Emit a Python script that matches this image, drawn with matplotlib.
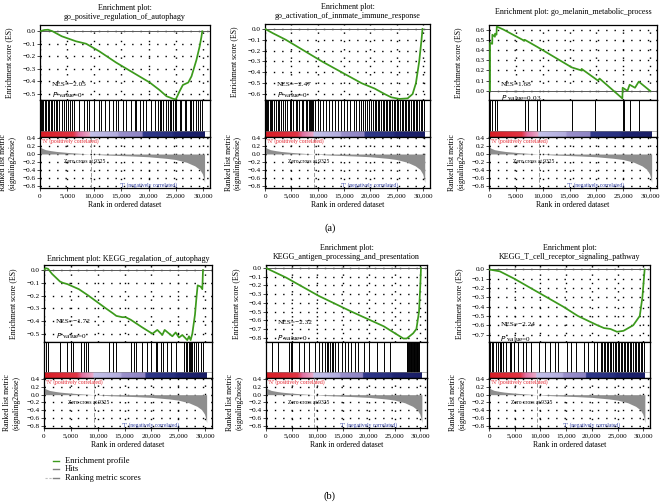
import numpy as np
import matplotlib
matplotlib.use("Agg")
import matplotlib.pyplot as plt
from matplotlib.colors import LinearSegmentedColormap
from matplotlib.lines import Line2D
from matplotlib.ticker import FuncFormatter

plt.rcParams['font.family'] = ['Liberation Serif', 'DejaVu Serif']

# ---------------- data ----------------
N_GENES = 30300
ZERO_CROSS = 9325

rank_x = [0, 300, 1000, 2000, 3000, 5000, 7000, 9325, 12000, 15000, 17000, 20000,
          23300, 25000, 27000, 28500, 29400, 29900, 30150, 30300]
rank_y = [0.19, 0.15, 0.11, 0.085, 0.065, 0.04, 0.02, 0.0, -0.025, -0.04, -0.05, -0.07,
          -0.11, -0.14, -0.21, -0.3, -0.39, -0.5, -0.62, -0.72]

titles = [
    "Enrichment plot:\ngo_positive_regulation_of_autophagy",
    "Enrichment plot:\ngo_activation_of_innmate_immune_response",
    "Enrichment plot: go_melanin_metabolic_process",
    "Enrichment plot: KEGG_regalation_of_autophagy",
    "Enrichment plot:\nKEGG_antigen_processing_and_presentation",
    "Enrichment plot:\nKEGG_T_cell_receptor_signaling_pathway",
]
nes_values = ["\u22122.05", "\u22122.47", "1.68", "\u22121.72", "\u22122.32", "\u22122.24"]
p_values = ["0", "0", "0.03", "0", "0", "0"]

es1_x = [0, 800, 1500, 2300, 4000, 6600, 8500, 10900, 14000, 17100, 20200, 22000, 23300,
         24500, 25000, 25700, 26300, 27300, 27900, 28800, 29400, 29700, 29880]
es1_y = [0.0, 0.01, 0.012, 0.0, -0.04, -0.08, -0.1, -0.16, -0.25, -0.33, -0.41, -0.47, -0.52,
         -0.54, -0.545, -0.48, -0.43, -0.41, -0.36, -0.23, -0.12, -0.05, 0.0]
hits1 = [120, 430, 620, 860, 1170, 1480, 1670, 1970, 2280, 2590, 3020, 3210, 3520, 4130,
         4440, 4750, 5240, 5490, 5980, 6290, 7220, 8140, 8580, 9070, 10000, 10920, 11230,
         12030, 12770, 13390, 14010, 14310, 15240, 15860, 16780, 17400, 17710, 18320, 18940,
         19560, 20480, 21100, 21720, 22030, 22340, 22640, 23260, 23570, 23880, 24190, 24490,
         24800, 25110, 25730, 26040, 26650, 26960, 27580, 27890, 28200, 28810, 29120, 29430,
         29740]

es2_x = [0, 1500, 3940, 7380, 10810, 14560, 18310, 20810, 22690, 23940, 25500, 27060,
         28000, 28630, 29250, 29690, 29880]
es2_y = [0.0, -0.04, -0.1, -0.2, -0.3, -0.4, -0.5, -0.55, -0.6, -0.63, -0.645, -0.64,
         -0.6, -0.5, -0.3, -0.1, 0.0]
hits2 = [150, 300, 600, 900, 1200, 1400, 1700, 2100, 2400, 2700, 3100, 3500, 3800, 4200,
         4700, 5000, 5400, 5800, 6100, 6500, 7000, 7300, 7700, 8000, 8300, 8500, 8700, 9000,
         9200, 9500, 10000, 10500, 11000, 11600, 12200, 12700, 13300, 13900, 14500, 15000,
         15500, 16200, 16800, 17300, 17800, 18200, 18600, 19000, 19400, 19800, 20200, 20500,
         20800, 21100, 21400, 21700, 22000, 22300, 22600, 22900, 23200, 23500, 23800, 24100,
         24400, 24700, 25000, 25300, 25600, 25900, 26200, 26500, 26800, 27100, 27400, 27700,
         28000, 28300, 28600, 28900, 29200, 29500, 29800, 30100]

es3_x = [0, 190, 190, 600, 630, 1100, 1130, 1400, 1450, 2700, 6600, 6670, 9000, 15400,
         17200, 17250, 20300, 20600, 24850, 24900, 25800, 26200, 27200, 27900, 30000]
es3_y = [0.0, 0.0, 0.47, 0.46, 0.55, 0.53, 0.56, 0.55, 0.63, 0.6, 0.49, 0.5, 0.43, 0.23,
         0.2, 0.215, 0.1, 0.12, -0.075, 0.03, 0.0, 0.06, 0.03, 0.09, 0.0]
hits3 = [190, 630, 1130, 1450, 6670, 7230, 9000, 9500, 15470, 19750, 24900, 25200, 26200,
         27900]

es4_x = [0, 310, 750, 1500, 2980, 3500, 4350, 6500, 8260, 11500, 12850, 13480, 14600,
         15200, 16150, 18300, 20200, 21110, 22050, 22480, 23910, 24530, 25150, 25770, 26700,
         27010, 27320, 27630, 28130, 28440, 28630, 29190, 29500, 29620]
es4_y = [0.0, 0.015, 0.01, -0.03, -0.09, -0.1, -0.11, -0.15, -0.2, -0.3, -0.34, -0.36,
         -0.37, -0.37, -0.39, -0.45, -0.5, -0.47, -0.51, -0.47, -0.52, -0.49, -0.53, -0.51,
         -0.55, -0.52, -0.55, -0.5, -0.35, -0.2, -0.12, -0.13, -0.15, 0.0]
hits4 = [310, 750, 2980, 4350, 4970, 5400, 6960, 7450, 7760, 8260, 12110, 12850, 13480,
         16150, 16770, 17200, 18320, 19250, 19870, 20800, 21110, 21740, 22170, 22980, 23600,
         24530, 26080, 26390, 26700, 27010, 27200, 27450, 27630, 27950, 28260, 28630, 29190,
         29620]

es5_x = [0, 3920, 10250, 16580, 22910, 26710, 27350, 28610, 29240, 29750, 30000, 30130]
es5_y = [0.0, -0.11, -0.32, -0.5, -0.67, -0.81, -0.81, -0.75, -0.7, -0.5, -0.2, 0.0]
hits5 = [1080, 2340, 4560, 4870, 5060, 6460, 7410, 8360, 9620, 10250, 10890, 11520, 11840,
         12150, 12470, 12790, 13100, 13420, 14050, 14690, 15320, 15950, 16580, 17220, 17850,
         19120, 20070, 21650, 22910, 24180, 27350, 27500, 27650, 27800, 27950, 28100, 28250,
         28400, 28550, 28700, 28850, 29000, 29150, 29300, 29450, 29600, 29750]

es6_x = [0, 2090, 4940, 8100, 11270, 14430, 17280, 19180, 21080, 22350, 23610, 24880,
         26140, 28040, 29310, 29820, 30260]
es6_y = [0.0, -0.02, -0.1, -0.2, -0.3, -0.4, -0.5, -0.55, -0.6, -0.63, -0.64, -0.67,
         -0.66, -0.6, -0.5, -0.3, 0.0]
hits6 = [190, 510, 820, 1270, 1770, 2090, 2410, 2720, 3350, 3990, 4300, 4940, 5570, 6520,
         7150, 8100, 9690, 10950, 11900, 12850, 13480, 15070, 16010, 16960, 18550, 19180,
         20450, 21080, 21700, 22000, 22300, 22600, 22900, 23200, 23500, 23800, 24100, 24400,
         24700, 25000, 25300, 25600, 25900, 26200, 26500, 26800, 27100, 27400, 27700, 28000,
         28300, 28600, 28900, 29200, 29500, 29800, 30100]

es_ticks = [
    [0.0, -0.1, -0.2, -0.3, -0.4, -0.5],
    [0.0, -0.1, -0.2, -0.3, -0.4, -0.5, -0.6],
    [0.6, 0.5, 0.4, 0.3, 0.2, 0.1, 0.0],
    [0.0, -0.1, -0.2, -0.3, -0.4, -0.5],
    [0.0, -0.1, -0.2, -0.3, -0.4, -0.5, -0.6, -0.7, -0.8],
    [0.0, -0.1, -0.2, -0.3, -0.4, -0.5, -0.6, -0.7],
]
rank_ticks = [0.4, 0.2, 0.0, -0.2, -0.4, -0.6, -0.8]
x_ticks = [0, 5000, 10000, 15000, 20000, 25000, 30000]

# ---------------- layout / style ----------------
W, H = 661, 504
fig = plt.figure(figsize=(W / 100, H / 100), dpi=100)

GREEN = '#3c9a1c'
cmap = LinearSegmentedColormap.from_list('gsea', [
    (0.0, '#d81c24'), (0.2, '#e23444'), (0.235, '#e070a2'), (0.30, '#eaa8c8'),
    (0.305, '#c4c2ea'), (0.47, '#b2acde'), (0.48, '#9a90cc'), (0.62, '#8e84c4'),
    (0.625, '#30388a'), (0.80, '#283080'), (0.82, '#1e2472'), (1.0, '#1a1e66')])

panel_boxes = [
    (40, 210, 25, 100, 137, 188), (265, 430, 24, 100, 137, 188), (489, 657, 25, 100, 137, 188),
    (44, 212, 265, 342, 378, 428), (266, 427, 265, 342, 378, 428), (489, 650, 265, 342, 378, 428),
]
es_ylims = [(-0.55, 0.05), (-0.655, 0.045), (-0.09, 0.645), (-0.565, 0.04), (-0.85, 0.035), (-0.78, 0.048)]
title_pads = [4, 4, 8, 3, 4, 4]
nes_pos = [(0.2, 0.07), (0.2, 0.07), (0.2, 0.04), (0.27, 0.09), (0.25, 0.06), (0.23, 0.05)]
XMAX = 31300
DOT = (0, (1, 5))


def fmt_es(v, _):
    s = f"{v:.1f}"
    if abs(v) < 1e-9:
        return "0.0"
    return s.replace('-', '\u2212')


def rect(x1, x2, yt, yb):
    return [x1 / W, 1 - yb / H, (x2 - x1) / W, (yb - yt) / H]


es_x_all = [es1_x, es2_x, es3_x, es4_x, es5_x, es6_x]
es_y_all = [es1_y, es2_y, es3_y, es4_y, es5_y, es6_y]
hits_all = [hits1, hits2, hits3, hits4, hits5, hits6]

for i in range(6):
    x1, x2, yt, yes, yh, yr = panel_boxes[i]
    # ES axes
    ax = fig.add_axes(rect(x1, x2, yt, yes))
    ax.plot(es_x_all[i], es_y_all[i], color=GREEN, lw=1.25, zorder=3)
    ax.axhline(0, color='0.35', lw=0.7, zorder=2)
    ax.set_xlim(0, XMAX)
    ax.set_ylim(*es_ylims[i])
    ax.set_xticks(x_ticks)
    ax.set_yticks(es_ticks[i])
    ax.yaxis.set_major_formatter(FuncFormatter(fmt_es))
    ax.tick_params(axis='x', length=0, labelbottom=False)
    ax.tick_params(axis='y', labelsize=5.2, length=2, width=0.5, pad=1)
    ax.grid(True, linestyle=DOT, color='k', lw=1.0)
    ax.set_title(titles[i], fontsize=5.8, pad=title_pads[i], linespacing=1.3)
    ax.set_ylabel("Enrichment score (ES)", fontsize=5.6)
    ax.yaxis.set_label_coords(-0.16, 0.5)
    ny, py = nes_pos[i]
    ax.text(0.07, ny, f"NES={nes_values[i]}", transform=ax.transAxes, fontsize=5.2,
            ha='left', va='center', zorder=4)
    ax.text(0.07, py, f"$\\it{{P}}$ value={p_values[i]}", transform=ax.transAxes, fontsize=5.2,
            ha='left', va='center', zorder=4)
    for s in ax.spines.values():
        s.set_linewidth(0.9)

    # hits axes with color bar
    axh = fig.add_axes(rect(x1, x2, yes, yh))
    cb_frac = 6.0 / (yh - yes)
    axh.imshow(np.linspace(0, 1, 256)[None, :], aspect='auto', cmap=cmap,
               extent=(0, N_GENES, 0, cb_frac), zorder=1)
    axh.vlines(hits_all[i], cb_frac, 1, color='k', lw=0.7, zorder=2)
    axh.axhline(cb_frac, color='0.5', lw=0.4)
    axh.set_xlim(0, XMAX)
    axh.set_ylim(0, 1)
    axh.set_xticks([])
    axh.set_yticks([])
    for s in axh.spines.values():
        s.set_linewidth(0.9)

    # ranked list axes
    axr = fig.add_axes(rect(x1, x2, yh, yr))
    axr.fill_between(rank_x, rank_y, 0, color='#8e8e8e', lw=0, zorder=2)
    axr.axvline(ZERO_CROSS, color='0.6', ls=(0, (4, 2)), lw=0.7, zorder=3)
    axr.set_xlim(0, XMAX)
    axr.set_ylim(-0.86, 0.43)
    axr.set_yticks(rank_ticks)
    axr.set_xticks(x_ticks)
    axr.yaxis.set_major_formatter(FuncFormatter(fmt_es))
    axr.xaxis.set_major_formatter(FuncFormatter(lambda v, _: f"{int(v):,}"))
    axr.tick_params(axis='y', labelsize=5.2, length=2, width=0.5, pad=1)
    axr.tick_params(axis='x', labelsize=5.2, length=2, width=0.5, pad=2)
    axr.grid(True, linestyle=DOT, color='k', lw=1.0)
    axr.set_axisbelow(True)
    axr.set_xlabel("Rank in ordered dataset", fontsize=5.6, labelpad=2)
    axr.set_ylabel("Ranked list metric\n(signaling2noise)", fontsize=5.6, linespacing=1.2)
    axr.yaxis.set_label_coords(-0.14, 0.5)
    axr.text(400, 0.33, "'N' (positively correlated)", fontsize=4, color='#e3202a',
             ha='left', va='center', zorder=4)
    axr.text(8300, -0.2, "Zero cross at 9325", fontsize=4, color='k',
             ha='center', va='center', zorder=4)
    axr.text(19900, -0.78, "'T' (negatively correlated)", fontsize=4, color='#2c3ca0',
             ha='center', va='center', zorder=4)
    for s in axr.spines.values():
        s.set_linewidth(0.9)

# legend for (b)
leg_items = [("Enrichment profile", GREEN, 461), ("Hits", '0.5', 469), ("Ranking metric scores", '0.5', 478)]
for label, col, ypx in leg_items:
    fig.add_artist(Line2D([53 / W, 59 / W], [1 - ypx / H, 1 - ypx / H], color=col, lw=1.0))
    fig.text(65 / W, 1 - ypx / H, label, fontsize=6, ha='left', va='center')
fig.add_artist(Line2D([45 / W, 52 / W], [1 - 478 / H, 1 - 478 / H], color='0.75', lw=0.8, ls=(0, (2, 1.5))))

fig.text(330 / W, 1 - 228 / H, "(a)", fontsize=7.5, ha='center', va='center')
fig.text(330 / W, 1 - 496 / H, "(b)", fontsize=7.5, ha='center', va='center')

fig.savefig("out.png", dpi=100)
